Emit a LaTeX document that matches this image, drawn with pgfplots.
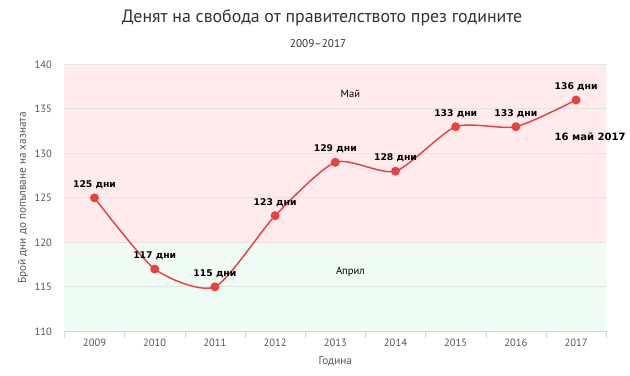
\documentclass[border=0pt]{standalone}
\usepackage{fontspec}
\setmainfont{PT Sans}
\newfontfamily\lblfont{DejaVu Sans}
\usepackage{pgfplots}
\pgfplotsset{compat=1.18}
\definecolor{bandred}{HTML}{FFEBEB}
\definecolor{bandgreen}{HTML}{EFFCF3}
\definecolor{linered}{HTML}{E8413F}
\definecolor{gridc}{HTML}{E3E3E3}
\definecolor{axisc}{HTML}{CCD6EB}
\definecolor{textc}{HTML}{333333}
\definecolor{tickc}{HTML}{555555}
\begin{document}
\begin{tikzpicture}
\begin{axis}[
  set layers,
  scale only axis,
  width=410pt, height=202pt,
  xmin=-0.5, xmax=8.5, ymin=110, ymax=140,
  xtick={0,...,8},
  xticklabels={2009,2010,2011,2012,2013,2014,2015,2016,2017},
  minor xtick={-0.5,0.5,...,8.5},
  major tick length=0pt,
  minor tick length=5pt,
  tick align=outside,
  minor x tick style={axisc},
  ytick={110,115,...,140},
  ytick style={draw=none},
  ymajorgrids,
  grid style={gridc, line width=0.6pt},
  axis x line*=bottom,
  axis y line*=left,
  y axis line style={draw=none},
  x axis line style={axisc, line width=0.8pt, -},
  ticklabel style={font=\fontsize{8}{9}\selectfont, text=tickc},
  /pgf/number format/assume math mode=true,
  /pgf/number format/1000 sep={},
  yticklabel style={xshift=-6pt},
  xticklabel style={yshift=-2pt},
  ylabel={Брой дни до попълване на хазната},
  ylabel style={font=\fontsize{8.5}{10}\selectfont, text=tickc, yshift=-2pt},
  xlabel={Година},
  xlabel style={font=\fontsize{8.5}{10}\selectfont, text=tickc, yshift=-1pt},
  clip=false,
]
\begin{pgfonlayer}{axis background}
\fill[bandgreen] (axis cs:-0.5,110) rectangle (axis cs:8.5,120);
\fill[bandred] (axis cs:-0.5,120) rectangle (axis cs:8.5,140);
\end{pgfonlayer}
\node[font=\fontsize{8}{9}\selectfont, text=black] at (axis cs:4.25,136.7) {Май};
\node[font=\fontsize{8}{9}\selectfont, text=black] at (axis cs:4.25,116.7) {Април};
\addplot[linered, line width=1.1pt, smooth, tension=0.4,
  mark=*, mark size=2.8pt, mark options={fill=linered, draw=linered},
  nodes near coords={\lblfont\bfseries\pgfmathprintnumber{\pgfplotspointmeta}~дни},
  nodes near coords style={font=\fontsize{7}{8}\selectfont, text=black, yshift=3pt},
  point meta=y]
  coordinates {(0,125) (1,117) (2,115) (3,123) (4,129) (5,128) (6,133) (7,133) (8,136)};
\node[font=\lblfont\bfseries\fontsize{7.6}{9}\selectfont, anchor=east] at (axis cs:8.9,131.9) {16 май 2017};
\end{axis}
\node[font=\fontsize{13.5}{16}\selectfont, text=textc] at ([xshift=-10pt,yshift=35pt]current axis.north) {Денят на свобода от правителството през годините};
\node[font=\fontsize{8.5}{10}\selectfont, text=textc] at ([xshift=-13pt,yshift=16pt]current axis.north) {2009–2017};
\path[use as bounding box] ([xshift=-48.75pt,yshift=-33.75pt]current axis.south west) rectangle ([xshift=13.5pt,yshift=48.75pt]current axis.north east);
\end{tikzpicture}
\end{document}
